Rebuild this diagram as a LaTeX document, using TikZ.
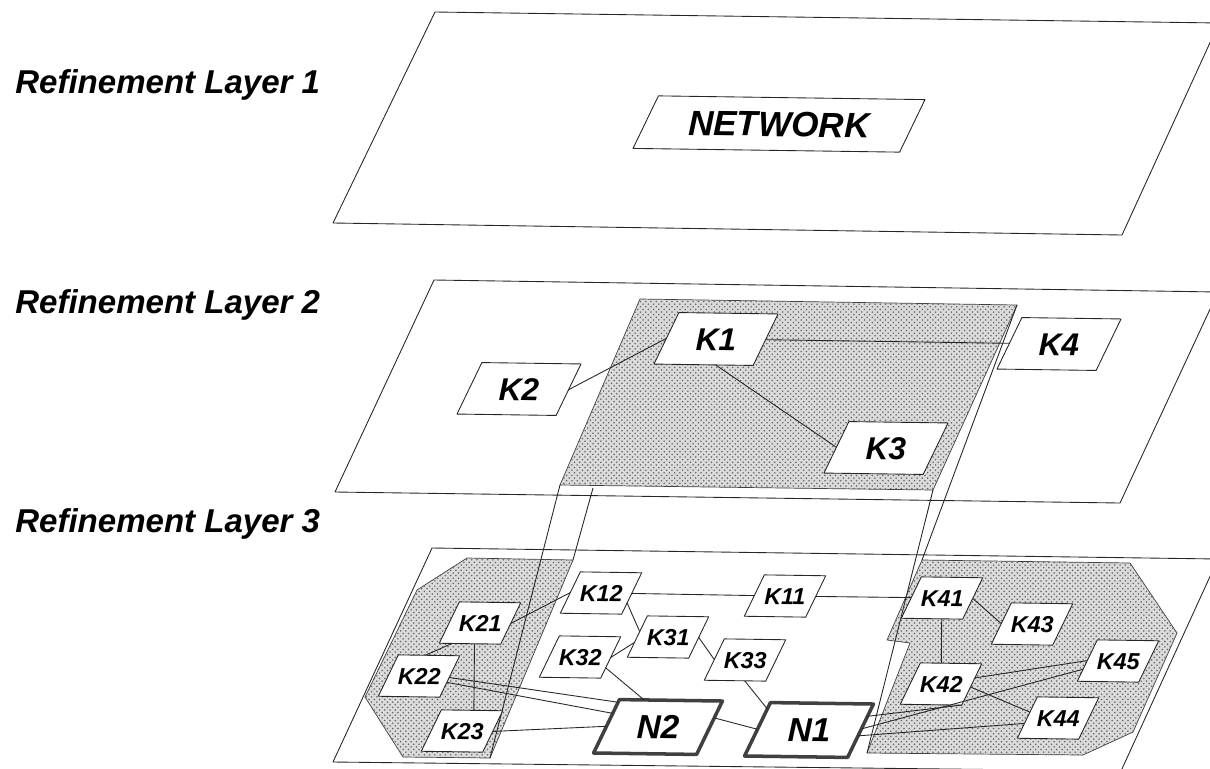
\documentclass[tikz,border=0pt]{standalone}
\usepackage{fontspec}
\setmainfont{Liberation Sans}
\usetikzlibrary{shapes.geometric, patterns}

\tikzset{
  plane/.style={draw=black!85, line width=0.5pt},
  region/.style={draw=black!75, line width=0.4pt, fill=black!14,
    postaction={pattern=crosshatch dots, pattern color=black!60}},
  link/.style={draw=black!85, line width=0.5pt},
  card/.style={draw=black!85, fill=white, line width=0.5pt, trapezium,
    trapezium left angle=65, trapezium right angle=115,
    inner xsep=0pt, outer sep=0pt, align=center, text depth=0pt, rotate=-0.8},
  netbox/.style={card, text width=4.84cm, text height=14.3pt, inner ysep=7.9pt,
    font=\fontsize{20}{20}\selectfont\bfseries\itshape},
  midbox/.style={card, text width=1.5cm, text height=12.9pt, inner ysep=8.3pt,
    font=\fontsize{18}{18}\selectfont\bfseries\itshape},
  subbox/.style={card, text width=0.84cm, text height=9.5pt, inner ysep=7.1pt,
    font=\fontsize{13.2}{14}\selectfont\bfseries\itshape},
  nodebox/.style={card, line width=2pt, draw=black!75, text width=1.56cm,
    text height=13.6pt, inner ysep=8.5pt,
    font=\fontsize{19}{19}\selectfont\bfseries\itshape},
  layertext/.style={anchor=base west, inner sep=0pt,
    font=\fontsize{18.8}{19}\selectfont\bfseries\itshape}
}

\begin{document}
\begin{tikzpicture}[x=0.02cm, y=-0.02cm, line join=round]
    \useasboundingbox (0,0) rectangle (1210,768);

    % Layer planes
    \draw[plane] (435,12) -- (1219,23) -- (1122,235) -- (333,223) -- cycle;
    \draw[plane] (434,280) -- (1218,292) -- (1120,503) -- (335,492) -- cycle;
    \draw[plane] (432,548) -- (1218,559) -- (1121,771) -- (333,762) -- cycle;

    % Layer labels
    \node (lab1) [layertext] at (15,93) {Refinement Layer 1};
    \node (lab2) [layertext] at (15,313) {Refinement Layer 2};
    \node (lab3) [layertext] at (15,532) {Refinement Layer 3};

    % Shaded region in layer 2
    \coordinate (s2a) at (640,299);
    \coordinate (s2b) at (1017,305);
    \coordinate (s2c) at (933,490);
    \coordinate (s2d) at (560,485);
    \coordinate (s2e) at (593,488);
    \draw[region] (s2a) -- (s2b) -- (s2c) -- (s2d) -- cycle;

    % Shaded regions in layer 3
    \coordinate (g2a) at (467,558);
    \coordinate (g2b) at (573,560);
    \coordinate (g2c) at (490,758);
    \coordinate (g2d) at (403,757);
    \coordinate (g2e) at (365,697);
    \coordinate (g2f) at (417,590);
    \draw[region] (g2a) -- (g2b) -- (g2c) -- (g2d) -- (g2e) -- (g2f) -- cycle;

    \coordinate (g4a) at (922,560);
    \coordinate (g4b) at (1130,563);
    \coordinate (g4c) at (1177,633);
    \coordinate (g4d) at (1133,732);
    \coordinate (g4e) at (1083,755);
    \coordinate (g4f) at (867,753);
    \coordinate (g4g) at (910,643);
    \coordinate (g4h) at (887,640);
    \draw[region] (g4a) -- (g4b) -- (g4c) -- (g4d) -- (g4e) -- (g4f) -- (g4g) -- (g4h) -- cycle;

    % Projection lines between layers
    \draw[link] (s2d) -- (g2c);
    \draw[link] (s2e) -- (g2b);
    \draw[link] (s2c) -- (g4f);
    \draw[link] (s2b) -- (g4a);

    % Layer 1
    \node (net) [netbox] at (779,124) {NETWORK};

    % Layer 2
    \node (k1) [midbox] at (716,339) {K1};
    \node (k2) [midbox] at (519,389) {K2};
    \node (k3) [midbox] at (886,448) {K3};
    \node (k4) [midbox] at (1059,344) {K4};

    \draw[link] (k2.east) -- (k1.west);
    \draw[link] (k1.south) -- (k3.west);
    \draw[link] (k1.east) -- (k4.west);

    % Layer 3
    \node (k12) [subbox] at (601,593) {K12};
    \node (k11) [subbox] at (785,596) {K11};
    \node (k21) [subbox] at (480,623) {K21};
    \node (k22) [subbox] at (419,676) {K22};
    \node (k23) [subbox] at (462,731) {K23};
    \node (k32) [subbox] at (580,657) {K32};
    \node (k31) [subbox] at (668,637) {K31};
    \node (k33) [subbox] at (745,660) {K33};
    \node (k41) [subbox] at (942,598) {K41};
    \node (k43) [subbox] at (1032,624) {K43};
    \node (k42) [subbox] at (941,684) {K42};
    \node (k45) [subbox] at (1118,661) {K45};
    \node (k44) [subbox] at (1058,718) {K44};
    \node (n2) [nodebox] at (658,727) {N2};
    \node (n1) [nodebox] at (809,730) {N1};

    \draw[link] (k21.east) -- (k12.west);
    \draw[link] (k12.east) -- (k11.west);
    \draw[link] (k12.-20) -- (k31.170);
    \draw[link] (k32.east) -- (k31.190);
    \draw[link] (k31.east) -- (k33.west);
    \draw[link] (k32.-22) -- (n2.118);
    \draw[link] (k33.south) -- (n1.154);
    \draw[link] (n2.10) -- (n1.west);
    \draw[link] (k21.217) -- (k22.74);
    \draw[link] (k21.-104) -- (k23.61);
    \draw[link] (k22.-2) -- (n2.149);
    \draw[link] (k22.-12) -- (n2.164);
    \draw[link] (k23.east) -- (n2.west);
    \draw[link] (k11.east) -- (k41.west);
    \draw[link] (k41.east) -- (k43.west);
    \draw[link] (k41.south) -- (k42.north);
    \draw[link] (k42.11) -- (k45.west);
    \draw[link] (k42.-5) -- (k44.169);
    \draw[link] (n1.14) -- (k42.-45);
    \draw[link] (n1.2) -- (k45.194);
    \draw[link] (n1.-6) -- (k44.190);
\end{tikzpicture}
\end{document}
